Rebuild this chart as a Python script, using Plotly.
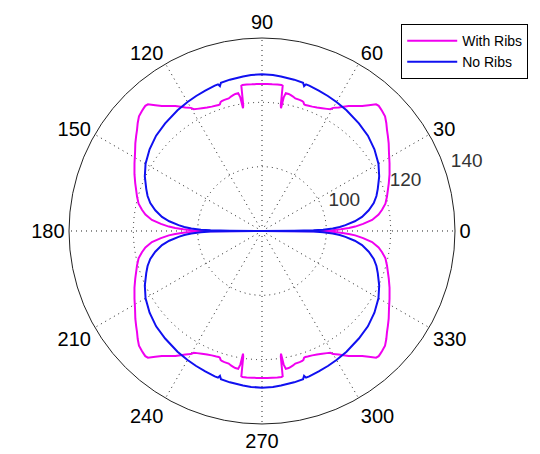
import plotly.graph_objects as go

# First-quadrant readings (degrees, value); the pattern is mirror-symmetric
theta_ribs_q1 = [0, 0.3, 0.7, 1.2, 2, 2.7, 4, 5.7, 8, 10, 12.5, 15.4, 20.6, 24, 28, 31.5, 34.7, 37, 39, 41, 43, 45,
                 46, 47, 48, 49.7, 51.3, 53.5, 55.3, 56.8, 58.2, 60, 60.7, 62, 63.9, 66, 68, 70, 71, 71.6, 72.2,
                 72.8, 74, 75.9, 77, 78.2, 79, 80.2, 80.8, 81.2, 81.5, 81.9, 82.4, 84, 86, 88, 90]
r_ribs_q1 = [80, 98, 102, 104.5, 107, 109, 111.5, 114.4, 116.6, 117.9, 119.3, 120.3, 122.1, 123.4, 124.9, 126.3,
             127.9, 129, 130, 131.2, 132.3, 132.8, 133.0, 133.2, 133.0, 131.3, 129.8, 128.3, 127.3, 126.2, 125.2,
             124.2, 123.4, 123.0, 122.5, 122.0, 121.7, 121.5, 121.4, 121.5, 122.1, 122.3, 122.4, 122.5, 122.9,
             123.2, 123.4, 123.5, 122.0, 118.6, 119.5, 125.6, 125.8, 125.8, 125.7, 125.7, 125.7]

theta_noribs_q1 = [0, 0.3, 0.7, 1.2, 2, 3, 4, 6, 8, 11, 14, 17, 20, 25, 30, 36, 42, 48, 55, 60, 64, 68, 72,
                   73.3, 73.8, 74.5, 78, 83, 86, 90]
r_noribs_q1 = [80, 90, 96, 99, 102, 104.2, 106, 109, 111.4, 113.8, 115.8, 117.2, 118.3, 120.2, 121.8, 123.2,
               124.3, 125.0, 125.8, 126.3, 126.7, 127.1, 127.5, 127.6, 126.9, 127.8, 128.1, 128.4, 128.6, 128.7]

angle_ticks = list(range(0, 360, 30))
radial_ticks = [100, 120, 140]
radial_range = [80, 140]
series_names = ["With Ribs", "No Ribs"]


def full_circle(th, r):
    # mirror the quadrant readings into all four quadrants
    t_all, r_all = [], []
    t_all += th; r_all += r
    t_all += [180 - t for t in reversed(th)]; r_all += list(reversed(r))
    t_all += [180 + t for t in th]; r_all += r
    t_all += [360 - t for t in reversed(th)]; r_all += list(reversed(r))
    return t_all, r_all


t_ribs, rr_ribs = full_circle(theta_ribs_q1, r_ribs_q1)
t_no, rr_no = full_circle(theta_noribs_q1, r_noribs_q1)

font_family = "Liberation Sans, Arial, sans-serif"
label_angle = 18  # MATLAB places the ring labels along a fixed angle

fig = go.Figure()
fig.add_trace(go.Scatterpolar(theta=t_ribs, r=rr_ribs, mode="lines", name=series_names[0],
                              line=dict(color="#F000F0", width=2)))
fig.add_trace(go.Scatterpolar(theta=t_no, r=rr_no, mode="lines", name=series_names[1],
                              line=dict(color="#1010F0", width=2)))
# ring labels, anchored bottom-left at each ring like MATLAB's polar()
fig.add_trace(go.Scatterpolar(theta=[label_angle] * len(radial_ticks), r=radial_ticks,
                              mode="text", text=["\u00a0" + str(v) for v in radial_ticks],
                              textposition="top right", cliponaxis=False, showlegend=False,
                              hoverinfo="skip",
                              textfont=dict(size=19, color="#333", family=font_family)))

fig.update_layout(
    width=540, height=454,
    margin=dict(l=0, r=0, t=0, b=0),
    paper_bgcolor="white",
    font=dict(family=font_family, color="black"),
    polar=dict(
        domain=dict(x=[0.1278, 0.8426], y=[0.0661, 0.9163]),
        bgcolor="white",
        angularaxis=dict(
            rotation=0, direction="counterclockwise",
            tickmode="array", tickvals=angle_ticks, ticktext=[str(a) for a in angle_ticks],
            tickfont=dict(size=20, color="black", family=font_family),
            ticks="",
            showline=True, linecolor="#222", linewidth=1,
            showgrid=True, gridcolor="#222", griddash="1px,4px", gridwidth=1,
        ),
        radialaxis=dict(
            range=radial_range, tickmode="array", tickvals=radial_ticks,
            showticklabels=False,
            showline=False, ticks="",
            showgrid=True, gridcolor="#222", griddash="1px,4px", gridwidth=1,
        ),
    ),
    showlegend=True,
    legend=dict(
        x=0.743, y=0.947, xanchor="left", yanchor="top",
        bordercolor="black", borderwidth=1, bgcolor="white",
        font=dict(size=14, family=font_family, color="black"),
        itemwidth=50, tracegroupgap=0,
    ),
)

fig.write_html("out.html")
